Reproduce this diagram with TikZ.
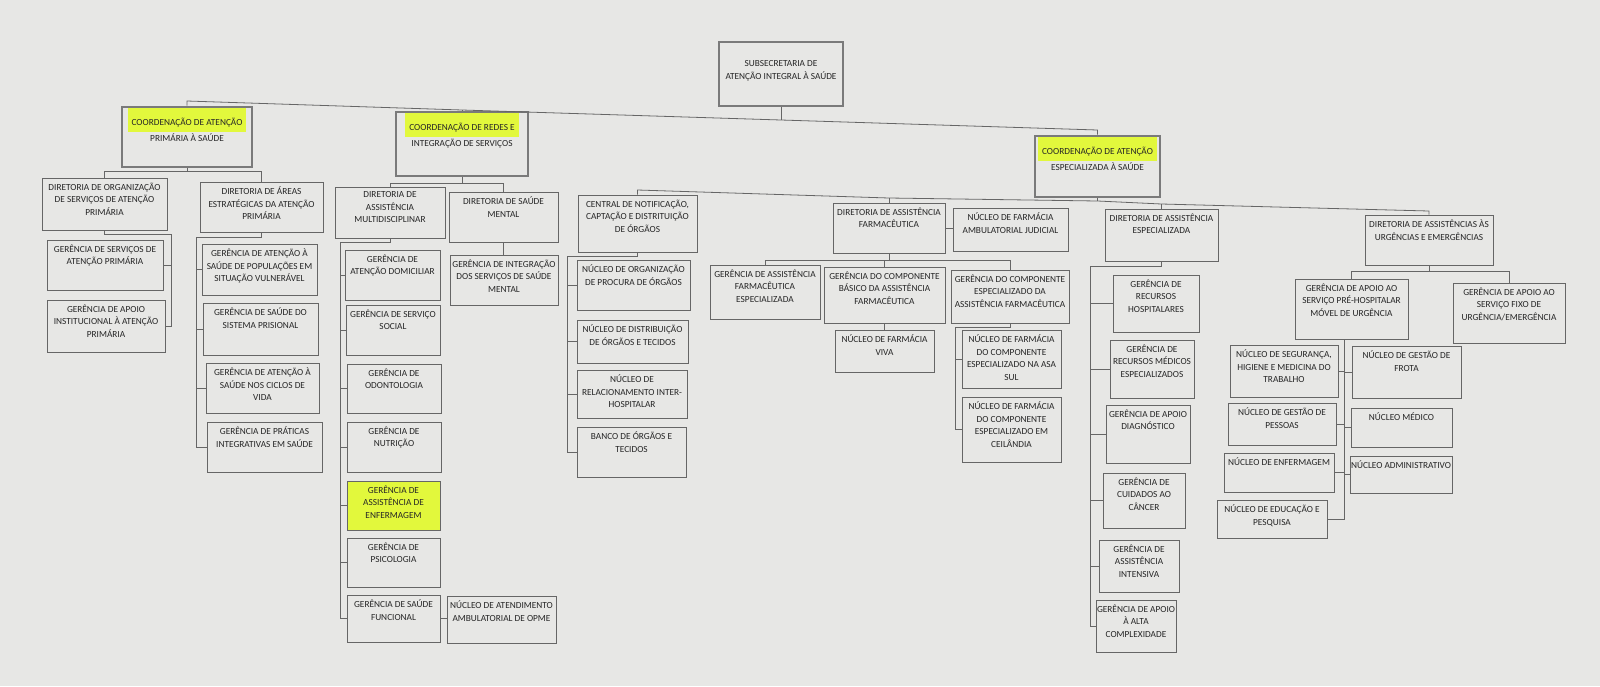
\documentclass[tikz,border=0pt]{standalone}
\usepackage{fontspec}
\setmainfont{Carlito}
\definecolor{bgc}{HTML}{E7E7E5}
\definecolor{linec}{HTML}{666666}
\definecolor{framec}{HTML}{7A7A7A}
\definecolor{textc}{HTML}{262626}
\definecolor{hly}{HTML}{E2F83C}
\newcommand\hlt[1]{{\setlength\fboxsep{0pt}\colorbox{hly}{\rule[-6pt]{0pt}{24pt}\hspace{4pt}#1\hspace{4pt}}}}
\tikzset{
  orgbox/.style={draw=linec, line width=0.8pt, inner sep=0pt, rectangle},
  coordbox/.style={draw=framec, line width=2.6pt, inner sep=0pt, rectangle},
  boxtext/.style={font=\fontsize{9.3}{12.5}\selectfont, text=textc, align=center, inner sep=0pt},
  link/.style={draw=linec, line width=0.8pt}
}
\newcommand\obox[7][]{%
  \node[orgbox,#1,minimum width={(#5-#3)*1pt},minimum height={(#6-#4)*1pt}] (#2) at ({(#3+#5)/2},{(#4+#6)/2}) {};
  \node[boxtext,anchor=north] (#2-t) at ([yshift=-5pt]#2.north) {#7};}
\newcommand\cbox[6]{%
  \node[coordbox,minimum width={(#4-#2)*1pt},minimum height={(#5-#3)*1pt}] (#1) at ({(#2+#4)/2},{(#3+#5)/2}) {};
  \node[boxtext,anchor=north] (#1-t) at ([yshift=-2pt]#1.north) {#6};}
\begin{document}
\begin{tikzpicture}[x=1pt,y=-1pt]
\fill[bgc] (0,0) rectangle (1600,686);
\useasboundingbox (0,0) rectangle (1600,686);

% top
\node[coordbox, minimum width=124pt, minimum height=64pt] (top) at (781,74) {};
\node[boxtext] (top-t) at ([yshift=3pt]top.center) {SUBSECRETARIA DE\\ATENÇÃO INTEGRAL À SAÚDE};

% coordinations
\cbox{cap}{122}{107}{252}{167}{\hlt{COORDENAÇÃO DE ATENÇÃO}\\[1pt]PRIMÁRIA À SAÚDE}
\cbox{cri}{396}{112}{528}{176}{\hlt{COORDENAÇÃO DE REDES E}\\[1pt]INTEGRAÇÃO DE SERVIÇOS}
\cbox{cae}{1035}{136}{1160}{197}{\hlt{COORDENAÇÃO DE ATENÇÃO}\\[1pt]ESPECIALIZADA À SAÚDE}

% left branch
\obox{dosap}{42}{178}{167}{230}{DIRETORIA DE ORGANIZAÇÃO\\DE SERVIÇOS DE ATENÇÃO\\PRIMÁRIA}
\obox{daeap}{200}{182}{323}{232}{DIRETORIA DE ÁREAS\\ESTRATÉGICAS DA ATENÇÃO\\PRIMÁRIA}
\obox{gsap}{47}{240}{163}{290}{GERÊNCIA DE SERVIÇOS DE\\ATENÇÃO PRIMÁRIA}
\obox{gaiap}{47}{300}{165}{352}{GERÊNCIA DE APOIO\\INSTITUCIONAL À ATENÇÃO\\PRIMÁRIA}
\obox{gaspv}{202}{244}{317}{295}{GERÊNCIA DE ATENÇÃO À\\SAÚDE DE POPULAÇÕES EM\\SITUAÇÃO VULNERÁVEL}
\obox{gssp}{203}{303}{318}{355}{GERÊNCIA DE SAÚDE DO\\SISTEMA PRISIONAL}
\obox{gascv}{206}{363}{319}{413}{GERÊNCIA DE ATENÇÃO À\\SAÚDE NOS CICLOS DE\\VIDA}
\obox{gpis}{207}{422}{322}{472}{GERÊNCIA DE PRÁTICAS\\INTEGRATIVAS EM SAÚDE}

% middle branch
\obox{dam}{335}{187}{445}{238}{DIRETORIA DE\\ASSISTÊNCIA\\MULTIDISCIPLINAR}
\obox{dsm}{449}{192}{558}{242}{DIRETORIA DE SAÚDE\\MENTAL}
\obox{giss}{450}{255}{558}{305}{GERÊNCIA DE INTEGRAÇÃO\\DOS SERVIÇOS DE SAÚDE\\MENTAL}
\obox{gad}{345}{250}{440}{300}{GERÊNCIA DE\\ATENÇÃO DOMICILIAR}
\obox{gss}{346}{305}{440}{355}{GERÊNCIA DE SERVIÇO\\SOCIAL}
\obox{god}{347}{364}{441}{413}{GERÊNCIA DE\\ODONTOLOGIA}
\obox{gnu}{347}{422}{441}{472}{GERÊNCIA DE\\NUTRIÇÃO}
\obox[fill=hly]{gae}{347}{481}{440}{530}{GERÊNCIA DE\\ASSISTÊNCIA DE\\ENFERMAGEM}
\obox{gps}{347}{538}{440}{587}{GERÊNCIA DE\\PSICOLOGIA}
\obox{gsf}{347}{595}{440}{642}{GERÊNCIA DE SAÚDE\\FUNCIONAL}
\obox{naao}{447}{596}{556}{643}{NÚCLEO DE ATENDIMENTO\\AMBULATORIAL DE OPME}

% right branch: central
\obox{cncdo}{578}{195}{697}{252}{CENTRAL DE NOTIFICAÇÃO,\\CAPTAÇÃO E DISTRITUIÇÃO\\DE ÓRGÃOS}
\obox{nopo}{577}{260}{690}{310}{NÚCLEO DE ORGANIZAÇÃO\\DE PROCURA DE ÓRGÃOS}
\obox{ndot}{577}{320}{688}{363}{NÚCLEO DE DISTRIBUIÇÃO\\DE ÓRGÃOS E TECIDOS}
\obox{nrih}{577}{370}{687}{418}{NÚCLEO DE\\RELACIONAMENTO INTER-\\HOSPITALAR}
\obox{bot}{577}{427}{686}{477}{BANCO DE ÓRGÃOS E\\TECIDOS}

% farmacia
\obox{daf}{833}{203}{945}{253}{DIRETORIA DE ASSISTÊNCIA\\FARMACÊUTICA}
\obox{nfaj}{953}{208}{1068}{251}{NÚCLEO DE FARMÁCIA\\AMBULATORIAL JUDICIAL}
\obox{gafe}{710}{265}{820}{319}{GERÊNCIA DE ASSISTÊNCIA\\FARMACÊUTICA\\ESPECIALIZADA}
\obox{gcbaf}{824}{267}{945}{323}{GERÊNCIA DO COMPONENTE\\BÁSICO DA ASSISTÊNCIA\\FARMACÊUTICA}
\obox{gceaf}{951}{270}{1069}{323}{GERÊNCIA DO COMPONENTE\\ESPECIALIZADO DA\\ASSISTÊNCIA FARMACÊUTICA}
\obox{nfv}{835}{330}{934}{372}{NÚCLEO DE FARMÁCIA\\VIVA}
\obox{nfas}{962}{330}{1061}{388}{NÚCLEO DE FARMÁCIA\\DO COMPONENTE\\ESPECIALIZADO NA ASA\\SUL}
\obox{nfce}{962}{397}{1061}{462}{NÚCLEO DE FARMÁCIA\\DO COMPONENTE\\ESPECIALIZADO EM\\CEILÂNDIA}

% especializada
\obox{dae}{1105}{209}{1218}{261}{DIRETORIA DE ASSISTÊNCIA\\ESPECIALIZADA}
\obox{grh}{1113}{275}{1199}{332}{GERÊNCIA DE\\RECURSOS\\HOSPITALARES}
\obox{grme}{1110}{340}{1194}{398}{GERÊNCIA DE\\RECURSOS MÉDICOS\\ESPECIALIZADOS}
\obox{gadg}{1106}{405}{1190}{463}{GERÊNCIA DE APOIO\\DIAGNÓSTICO}
\obox{gcc}{1103}{473}{1185}{528}{GERÊNCIA DE\\CUIDADOS AO\\CÂNCER}
\obox{gai}{1099}{540}{1179}{592}{GERÊNCIA DE\\ASSISTÊNCIA\\INTENSIVA}
\obox{gaac}{1096}{600}{1176}{652}{GERÊNCIA DE APOIO\\À ALTA\\COMPLEXIDADE}

% urgencias
\obox{dauu}{1365}{215}{1493}{265}{DIRETORIA DE ASSISTÊNCIAS ÀS\\URGÊNCIAS E EMERGÊNCIAS}
\obox{gapmu}{1295}{279}{1408}{339}{GERÊNCIA DE APOIO AO\\SERVIÇO PRÉ-HOSPITALAR\\MÓVEL DE URGÊNCIA}
\obox{gasfu}{1453}{283}{1565}{343}{GERÊNCIA DE APOIO AO\\SERVIÇO FIXO DE\\URGÊNCIA/EMERGÊNCIA}
\obox{nshmt}{1230}{345}{1338}{397}{NÚCLEO DE SEGURANÇA,\\HIGIENE E MEDICINA DO\\TRABALHO}
\obox{ngp}{1228}{403}{1336}{445}{NÚCLEO DE GESTÃO DE\\PESSOAS}
\obox{nenf}{1224}{453}{1334}{492}{NÚCLEO DE ENFERMAGEM}
\obox{nep}{1217}{500}{1327}{538}{NÚCLEO DE EDUCAÇÃO E\\PESQUISA}
\obox{ngf}{1352}{346}{1461}{398}{NÚCLEO DE GESTÃO DE\\FROTA}
\obox{nmed}{1351}{408}{1452}{447}{NÚCLEO MÉDICO}
\obox{nadm}{1350}{456}{1452}{493}{NÚCLEO ADMINISTRATIVO}

% ---------- connectors ----------
% main bus
\coordinate (b1) at (187,101);
\coordinate (b2) at (462,110);
\coordinate (b3) at (781,120);
\coordinate (b4) at (1097.5,130);
\draw[link] (cap.north) -- (b1) -- (b2) -- (b3) -- (b4) -- (cae.north);
\draw[link] (top.south) -- (b3);
\draw[link] (cri.north) -- (b2);

% left coordination bus
\coordinate (l1) at (104.5,171);
\coordinate (l2) at (261.5,171);
\draw[link] (cap.south) -- (cap.south |- l1);
\draw[link] (dosap.north) -- (l1) -- (l2) -- (daeap.north);
\coordinate (s1) at (171,234);
\draw[link] (dosap.south) |- (s1) -- (s1 |- gaiap.east) -- (gaiap.east);
\draw[link] (gsap.east) -- (gsap.east -| s1);
\coordinate (s2) at (196,237);
\draw[link] (daeap.south) |- (s2) -- (s2 |- gpis.west) -- (gpis.west);
\draw[link] (gaspv.west) -- (gaspv.west -| s2);
\draw[link] (gssp.west) -- (gssp.west -| s2);
\draw[link] (gascv.west) -- (gascv.west -| s2);

% middle coordination bus
\coordinate (m1) at (390,183);
\coordinate (m2) at (503.5,183);
\draw[link] (cri.south) -- (cri.south |- m1);
\draw[link] (dam.north) -- (m1) -- (m2) -- (dsm.north);
\draw[link] (dsm.south) -- (dsm.south |- giss.north);
\coordinate (s3) at (340,242);
\draw[link] (dam.south) |- (s3) -- (s3 |- gsf.west) -- (gsf.west);
\draw[link] (gad.west) -- (gad.west -| s3);
\draw[link] (gss.west) -- (gss.west -| s3);
\draw[link] (god.west) -- (god.west -| s3);
\draw[link] (gnu.west) -- (gnu.west -| s3);
\draw[link] (gae.west) -- (gae.west -| s3);
\draw[link] (gps.west) -- (gps.west -| s3);
\draw[link] (gsf.east) -- (gsf.east -| naao.west);

% right coordination bus
\coordinate (r1) at (637.5,190);
\coordinate (r2) at (889,198);
\coordinate (r3) at (1097.5,201);
\coordinate (r4) at (1161.5,204);
\coordinate (r5) at (1429,211);
\draw[link] (cncdo.north) -- (r1) -- (r2) -- (r3) -- (r4) -- (r5) -- (dauu.north);
\draw[link] (cae.south) -- (r3);
\draw[link] (daf.north) -- (r2);
\draw[link] (dae.north) -- (r4);

% central children
\coordinate (s4) at (567,256);
\draw[link] (cncdo.south) |- (s4) -- (s4 |- bot.west) -- (bot.west);
\draw[link] (nopo.west) -- (nopo.west -| s4);
\draw[link] (ndot.west) -- (ndot.west -| s4);
\draw[link] (nrih.west) -- (nrih.west -| s4);

% farmacia
\draw[link] (daf.east) -- (daf.east -| nfaj.west);
\coordinate (f1) at (765,260);
\coordinate (f2) at (1010,260);
\draw[link] (daf.south) -- (daf.south |- f1);
\draw[link] (gafe.north) -- (f1) -- (f2) -- (gceaf.north);
\draw[link] (gcbaf.north) -- (gcbaf.north |- f1);
\draw[link] (gcbaf.south) -- (gcbaf.south |- nfv.north);
\coordinate (s5) at (955,327);
\draw[link] (gceaf.south) |- (s5) -- (s5 |- nfce.west) -- (nfce.west);
\draw[link] (nfas.west) -- (nfas.west -| s5);

% especializada children
\coordinate (s6) at (1090,266);
\draw[link] (dae.south) |- (s6) -- (s6 |- gaac.west) -- (gaac.west);
\draw[link] (grh.west) -- (grh.west -| s6);
\draw[link] (grme.west) -- (grme.west -| s6);
\draw[link] (gadg.west) -- (gadg.west -| s6);
\draw[link] (gcc.west) -- (gcc.west -| s6);
\draw[link] (gai.west) -- (gai.west -| s6);

% urgencias
\coordinate (u1) at (1351.5,271);
\coordinate (u2) at (1509,271);
\draw[link] (dauu.south) -- (dauu.south |- u1);
\draw[link] (gapmu.north) -- (u1) -- (u2) -- (gasfu.north);
\coordinate (s7) at (1344,339);
\draw[link] (s7) -- (s7 |- nep.east) -- (nep.east);
\draw[link] (nshmt.east) -- (nshmt.east -| s7);
\draw[link] (ngp.east) -- (ngp.east -| s7);
\draw[link] (nenf.east) -- (nenf.east -| s7);
\draw[link] (ngf.west) -- (ngf.west -| s7);
\draw[link] (nmed.west) -- (nmed.west -| s7);
\draw[link] (nadm.west) -- (nadm.west -| s7);
\end{tikzpicture}
\end{document}
